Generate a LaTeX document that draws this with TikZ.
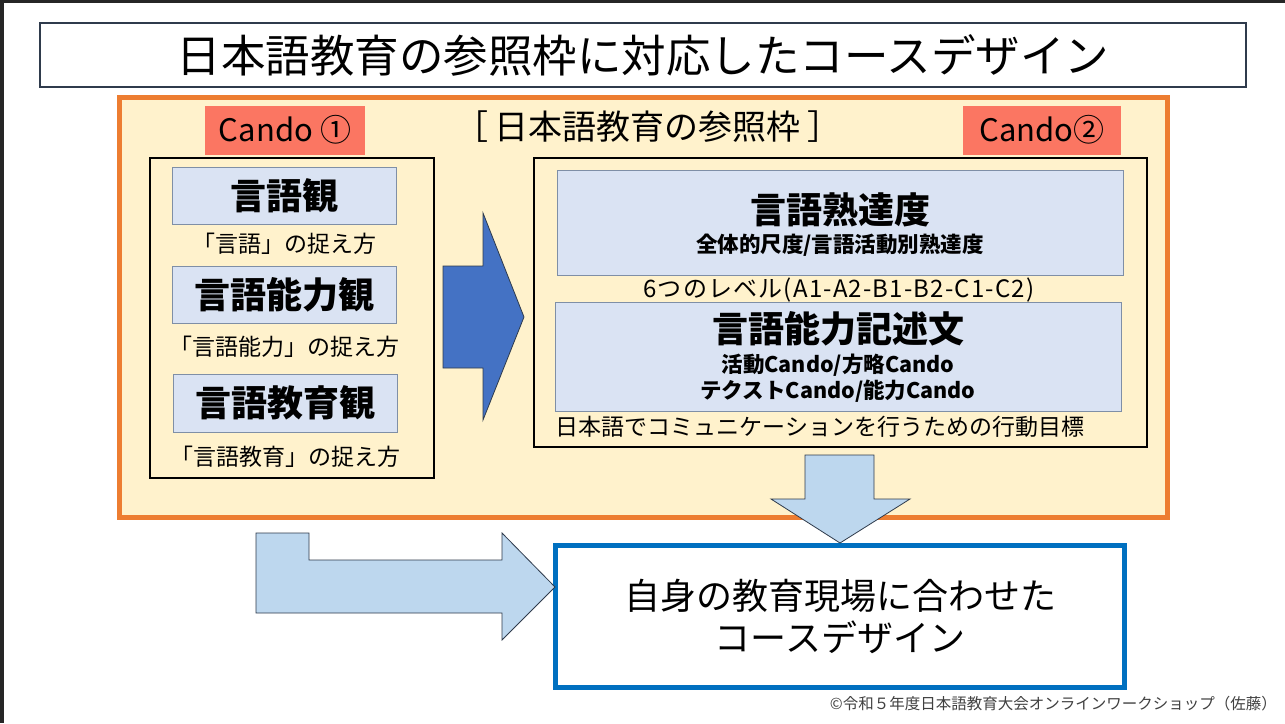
\documentclass[tikz,border=0pt]{standalone}
\usepackage{fontspec}
\setmainfont{Noto Sans CJK JP}
\usepackage{xcolor}
\usepackage{tikz}
\usetikzlibrary{positioning}
\definecolor{edge}{HTML}{262626}
\definecolor{titleline}{HTML}{2F3B4C}
\definecolor{cream}{HTML}{FFF2CC}
\definecolor{frameorange}{HTML}{ED7D31}
\definecolor{tagred}{HTML}{FB7662}
\definecolor{paleblue}{HTML}{DAE3F3}
\definecolor{paleline}{HTML}{7F8FA6}
\definecolor{deepblue}{HTML}{4472C4}
\definecolor{skyblue}{HTML}{BDD7EE}
\definecolor{goalblue}{HTML}{0070C0}
\definecolor{note}{HTML}{404040}
\newcommand{\fs}[1]{\fontsize{#1}{#1}\selectfont}

\begin{document}
\begin{tikzpicture}[
  x=1pt,y=-1pt,
  headbox/.style={draw=titleline,line width=1.2pt,fill=white,minimum width=1206pt,minimum height=64pt,font=\fs{44.5}},
  tag/.style={fill=tagred,minimum width=160pt,minimum height=49pt,font=\fs{31}},
  holder/.style={draw=black,line width=2.5pt,fill=cream},
  term/.style={draw=paleline,line width=1pt,fill=paleblue,minimum width=224pt,minimum height=57pt,font=\bfseries\fs{36}},
  wide/.style={draw=paleline,line width=1pt,fill=paleblue,minimum width=566pt},
  caption/.style={font=\fs{23},inner sep=0pt},
  subline/.style={font=\bfseries\fs{21.5},inner sep=0pt,align=center},
  blockarr/.style={line width=0.8pt,line join=miter}]
  \useasboundingbox[fill=white] (0,0) rectangle (1285,723);
  \fill[edge] (0,0) rectangle (1285,3);
  \fill[edge] (0,0) rectangle (4,723);

  \node[headbox] (head) at (643,55) {日本語教育の参照枠に対応したコースデザイン};
  \node[draw=frameorange,line width=5pt,fill=cream,minimum width=1048pt,minimum height=420pt] (frame) at (643,307) {};
  \node[tag] (cando1) at (285,130) {Cando ①};
  \node[tag,minimum width=158pt] (cando2) at (1042,130) {Cando②};
  \node[font=\fs{34}] (ref) at (648,127) {［\hspace{7pt}日本語教育の参照枠\hspace{7pt}］};

  % left column
  \node[holder,minimum width=284pt,minimum height=320pt] (views) at (292,318) {};
  \node[term] (v1) at (284,195.5) {言語観};
  \node[caption] (c1) at (284,244) {「言語」の捉え方};
  \node[term] (v2) at (284,294.5) {言語能力観};
  \node[caption] (c2) at (284,347) {「言語能力」の捉え方};
  \node[term,minimum height=58pt] (v3) at (285,403) {言語教育観};
  \node[caption] (c3) at (285,457) {「言語教育」の捉え方};

  % right column
  \node[holder,minimum width=613pt,minimum height=289pt] (scale) at (840.5,302.5) {};
  \node[wide,minimum height=105pt] (r1) at (840,222.5) {};
  \node[font=\bfseries\fs{36},inner sep=0pt] (r1t) at (840,210) {言語熟達度};
  \node[subline] (r1s) at (840,245) {全体的尺度/言語活動別熟達度};
  \node[caption,font=\fs{24}\addfontfeature{LetterSpace=5}] (lvl) at (839,290) {6つのレベル(A1-A2-B1-B2-C1-C2)};
  \node[wide,minimum height=109pt] (r2) at (838,356.5) {};
  \node[font=\bfseries\fs{36},inner sep=0pt] (r2t) at (838,329) {言語能力記述文};
  \node[subline] (r2s) at (838,378) {活動Cando/方略Cando\\[3pt]テクストCando/能力Cando};
  \node[caption] (goal) at (820,427) {日本語でコミュニケーションを行うための行動目標};

  % result
  \node[draw=goalblue,line width=5pt,fill=white,minimum width=569pt,minimum height=142pt] (course) at (839.5,616) {};
  \node[font=\fs{36},align=center,inner sep=0pt] (courset) at (840,616) {自身の教育現場に合わせた\\[6pt]コースデザイン};
  \node[font=\fs{15.5},text=note,anchor=east,inner sep=0pt] (credit) at (1277,704) {©令和５年度日本語教育大会オンラインワークショップ（佐藤）};

  % block arrows
  \draw[blockarr,fill=deepblue,draw=titleline] (443,266) -- (483,266) -- (483,213) -- (524,317) -- (483,420) -- (483,368) -- (443,368) -- cycle;
  \draw[blockarr,fill=skyblue,draw=titleline] (805,455) -- (874,455) -- (874,499) -- (910,499) -- (840,543) -- (771,499) -- (805,499) -- cycle;
  \draw[blockarr,fill=skyblue,draw=titleline] (256,533) -- (309,533) -- (309,560) -- (502,560) -- (502,533) -- (555,587) -- (502,640) -- (502,613) -- (256,613) -- cycle;
\end{tikzpicture}
\end{document}
